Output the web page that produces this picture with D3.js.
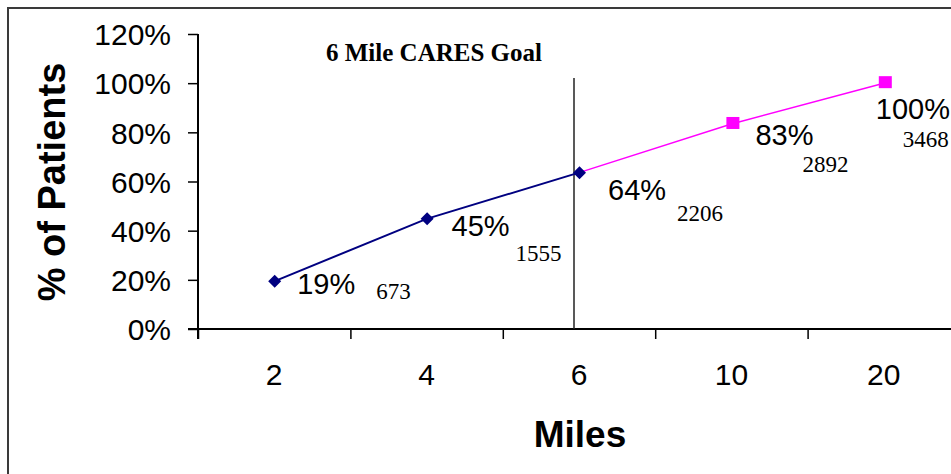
<!DOCTYPE html>
<html><head><meta charset="utf-8">
<script src="https://cdn.jsdelivr.net/npm/d3@7"></script>
<style>body{margin:0;background:#fff}svg{display:block}</style>
</head><body>
<svg id="c" width="951" height="474"></svg>
<script>
const categories = ["2","4","6","10","20"];
const within6 = [0.194, 0.448, 0.636, null, null];   // navy series (diamonds)
const beyond6 = [null, null, 0.636, 0.834, 1.0];     // magenta series (squares)
const pctLabels = ["19%","45%","64%","83%","100%"];
const counts = ["673","1555","2206","2892","3468"];
const yTicks = [0,0.2,0.4,0.6,0.8,1.0,1.2];
const goalCategory = "6";
const goalText = "6 Mile CARES Goal";
// label placement (layout only)
const pctOffset = [[23,2],[25,7],[29,17],[24,11],[-8,25]];
const cntOffset = [[102,10],[89,34],[98,41],[71,40],[19,56]];

const svg = d3.select("#c");
svg.append("rect").attr("x",8).attr("y",8).attr("width",1100).attr("height",1100)
  .attr("fill","none").attr("stroke","#3a3a3a").attr("stroke-width",2);

const L=198, R=960, T=34, B=329;
const x = d3.scaleBand().domain(categories).range([L,R]).padding(0);
const xb = d3.scaleLinear().domain([0,categories.length]).range([L,R]);
const y = d3.scaleLinear().domain([0,1.2]).range([B,T]);
const cx = c => x(c)+x.bandwidth()/2;

// y axis
const ya = svg.append("g").attr("transform",`translate(${L},0)`)
  .call(d3.axisLeft(y).tickValues(yTicks).tickFormat(d3.format(".0%")).tickSize(10).tickSizeOuter(0).tickPadding(17));
ya.select(".domain").attr("stroke","#000").attr("stroke-width",2).attr("d",`M0,${T}V${B+10}`);
ya.selectAll(".tick line").attr("stroke","#000").attr("stroke-width",1.5);
ya.selectAll(".tick text").attr("font-family","'Liberation Sans',Arial,sans-serif").attr("font-size",30).attr("fill","#000").attr("dy","0.36em");

// x axis boundary ticks
const xa = svg.append("g").attr("transform",`translate(0,${B})`)
  .call(d3.axisBottom(xb).tickValues(d3.range(categories.length+1)).tickFormat("").tickSize(10).tickSizeOuter(0));
xa.select(".domain").attr("stroke","#000").attr("stroke-width",2).attr("d",`M${L-10},0H${R}`);
xa.selectAll(".tick line").attr("stroke","#000").attr("stroke-width",1.5);
// x labels
const xl = svg.append("g").attr("transform",`translate(0,${B})`)
  .call(d3.axisBottom(x).tickSize(0).tickPadding(35));
xl.select(".domain").remove();
xl.selectAll(".tick text").attr("font-family","'Liberation Sans',Arial,sans-serif").attr("font-size",30).attr("fill","#000").attr("dy","0.71em");

// axis titles
svg.append("text").attr("x",580).attr("y",447).attr("text-anchor","middle")
  .attr("font-family","'Liberation Sans',Arial,sans-serif").attr("font-weight","bold").attr("font-size",37).text("Miles");
svg.append("text").attr("transform","translate(65,182) rotate(-90)").attr("text-anchor","middle")
  .attr("font-family","'Liberation Sans',Arial,sans-serif").attr("font-weight","bold").attr("font-size",38).text("% of Patients");

// goal line and text
svg.append("line").attr("x1",cx(goalCategory)-5).attr("x2",cx(goalCategory)-5).attr("y1",78).attr("y2",B)
  .attr("stroke","#222").attr("stroke-width",1.5);
svg.append("text").attr("x",434).attr("y",61).attr("text-anchor","middle")
  .attr("font-family","'Liberation Serif','Times New Roman',serif").attr("font-weight","bold").attr("font-size",25).text(goalText);

// lines
const line = d3.line().defined(d=>d[1]!=null).x(d=>cx(d[0])).y(d=>y(d[1]));
const s2 = categories.map((c,i)=>[c,beyond6[i]]);
const s1 = categories.map((c,i)=>[c,within6[i]]);
svg.append("path").datum(s2).attr("d",line).attr("fill","none").attr("stroke","#ff00ff").attr("stroke-width",1.5);
svg.append("path").datum(s1).attr("d",line).attr("fill","none").attr("stroke","#000080").attr("stroke-width",2);

// markers
svg.selectAll(".sq").data(s2.filter((d,i)=>d[1]!=null && within6[i]==null)).enter().append("rect")
  .attr("x",d=>cx(d[0])-5).attr("y",d=>y(d[1])-7).attr("width",13).attr("height",12).attr("fill","#ff00ff");
svg.selectAll(".dm").data(s1.filter(d=>d[1]!=null)).enter().append("path")
  .attr("transform",d=>`translate(${cx(d[0])+0.5},${y(d[1])})`)
  .attr("d","M0,-6.5L6.5,0L0,6.5L-6.5,0Z").attr("fill","#000080");

// labels
const vals = categories.map((c,i)=> within6[i]!=null ? within6[i] : beyond6[i]);
categories.forEach((c,i)=>{
  const px = cx(c), py = y(vals[i]);
  svg.append("text").attr("x",px+pctOffset[i][0]).attr("y",py+pctOffset[i][1]).attr("dy","0.36em")
    .attr("font-family","'Liberation Sans',Arial,sans-serif").attr("font-size",29).text(pctLabels[i]);
  svg.append("text").attr("x",px+cntOffset[i][0]).attr("y",py+cntOffset[i][1]).attr("dy","0.34em")
    .attr("font-family","'Liberation Serif','Times New Roman',serif").attr("font-size",23).text(counts[i]);
});
</script>
</body></html>
